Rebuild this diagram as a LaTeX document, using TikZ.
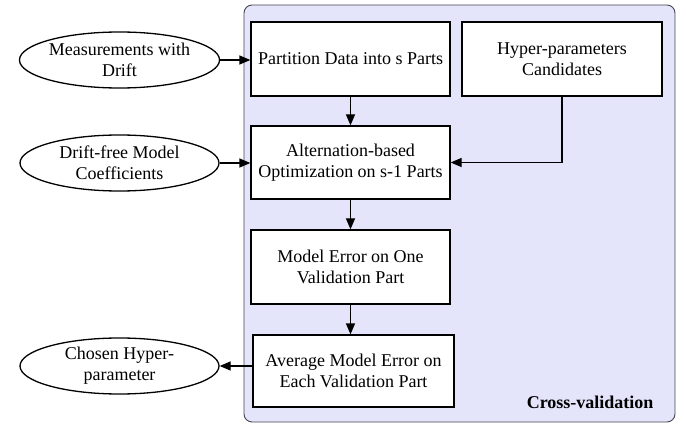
\documentclass[tikz,border=0pt]{standalone}
\usepackage{fontspec}
\setmainfont{Liberation Serif}[Ligatures=TeX]
\newfontfamily\tnr{Liberation Serif}
\usetikzlibrary{shapes.geometric,arrows.meta}
\definecolor{clfill}{RGB}{228,228,250}
\definecolor{clborder}{RGB}{70,70,80}
\begin{document}
\begin{tikzpicture}[x=1pt,y=-1pt,
  txt/.style={font=\tnr\fontsize{18}{21}\selectfont, align=center},
  box/.style={txt, draw=black, line width=1.3pt, fill=white, inner sep=0pt},
  oval/.style={txt, ellipse, draw=black, line width=1.3pt, fill=white, inner sep=0pt, minimum width=199pt, minimum height=56pt},
  arr/.style={line width=1.3pt, -{Triangle[length=11pt,width=9pt]}}
]
\useasboundingbox (0,0) rectangle (686,425);
\path[fill=clfill, draw=clborder, line width=0.9pt, rounded corners=8pt] (244,5) rectangle (675,422);

\node[box, minimum width=199pt, minimum height=74pt] (part) at (350.5,59) {Partition Data into s Parts};
\node[box, minimum width=200pt, minimum height=74pt] (hyp) at (562,59) {Hyper-parameters\\Candidates};
\node[box, minimum width=199pt, minimum height=73pt] (alt) at (350.5,162.5) {Alternation-based\\Optimization on s-1 Parts};
\node[box, minimum width=199pt, minimum height=74pt] (err) at (350.5,267) {Model Error on One\\Validation Part};
\node[box, minimum width=201pt, minimum height=72pt] (avg) at (353.5,371) {Average Model Error on\\Each Validation Part};

\node[oval] (meas) at (119.5,60) {Measurements with\\Drift};
\node[oval] (coef) at (119.5,163) {Drift-free Model\\Coefficients};
\node[oval] (chos) at (119.5,366) {Chosen Hyper-\\parameter};

\node[txt, font=\tnr\fontsize{18}{21}\selectfont\bfseries, anchor=east] (cv) at (657,402) {Cross-validation};

\draw[arr] (meas.east) -- (meas.east -| part.west);
\draw[arr] (coef.east) -- (coef.east -| alt.west);
\draw[arr] (part.south) -- (alt.north);
\draw[arr] (hyp.south) |- (alt.east);
\draw[arr] (alt.south) -- (err.north);
\draw[arr] (err.south) -- (err.south |- avg.north);
\draw[arr] (chos.east -| avg.west) -- (chos.east);
\end{tikzpicture}
\end{document}
